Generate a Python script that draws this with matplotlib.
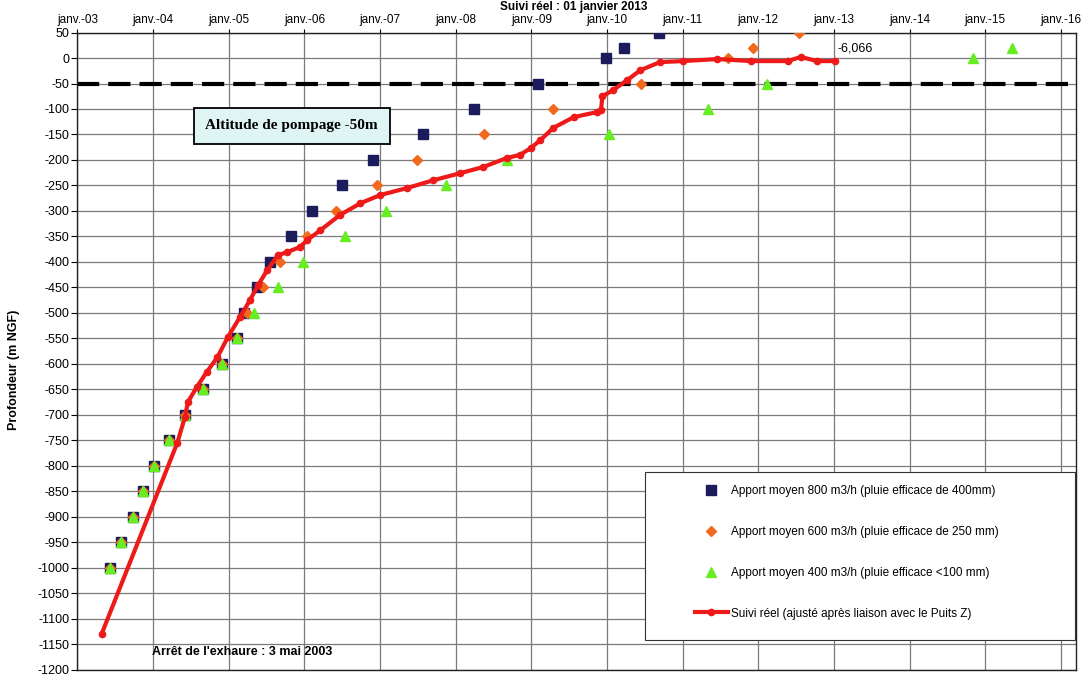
import numpy as np
import matplotlib
matplotlib.use("Agg")
import matplotlib.pyplot as plt
from matplotlib.patches import Rectangle

plt.rcParams['font.family'] = ['Liberation Sans', 'DejaVu Sans']
plt.rcParams['lines.scale_dashes'] = False
plt.rcParams['axes.unicode_minus'] = False

# dates en années décimales
years = list(range(2003, 2017))
year_labels = ["janv.-%02d" % (y % 100) for y in years]

# Apport moyen 800 m3/h
t_800 = [2003.43, 2003.58, 2003.73, 2003.87, 2004.01, 2004.21, 2004.42, 2004.66, 2004.91, 2005.11,
         2005.20, 2005.37, 2005.55, 2005.82, 2006.10, 2006.50, 2006.90, 2007.57, 2008.24, 2009.09,
         2009.98, 2010.23, 2010.69]
z_800 = [-1000, -950, -900, -850, -800, -750, -700, -650, -600, -550,
         -500, -450, -400, -350, -300, -250, -200, -150, -100, -50,
         0, 20, 50]

# Apport moyen 600 m3/h
t_600 = [2003.43, 2003.58, 2003.73, 2003.87, 2004.01, 2004.21, 2004.42, 2004.66, 2004.91, 2005.11,
         2005.24, 2005.45, 2005.68, 2006.04, 2006.42, 2006.96, 2007.49, 2008.38, 2009.29, 2010.45,
         2011.60, 2011.93, 2012.54]
z_600 = [-1000, -950, -900, -850, -800, -750, -700, -650, -600, -550,
         -500, -450, -400, -350, -300, -250, -200, -150, -100, -50,
         0, 20, 50]

# Apport moyen 400 m3/h
t_400 = [2003.43, 2003.58, 2003.73, 2003.87, 2004.01, 2004.21, 2004.42, 2004.66, 2004.91, 2005.11,
         2005.33, 2005.65, 2005.98, 2006.53, 2007.08, 2007.87, 2008.68, 2010.02, 2011.33, 2012.11,
         2014.84, 2015.35]
z_400 = [-1000, -950, -900, -850, -800, -750, -700, -650, -600, -550,
         -500, -450, -400, -350, -300, -250, -200, -150, -100, -50,
         0, 20]

# Suivi réel
t_reel = [2003.32, 2004.32, 2004.42, 2004.46, 2004.58, 2004.71, 2004.85, 2004.99, 2005.15, 2005.28,
          2005.39, 2005.51, 2005.65, 2005.77, 2005.94, 2006.04, 2006.21, 2006.47, 2006.74, 2007.00,
          2007.36, 2007.70, 2008.06, 2008.36, 2008.68, 2008.85, 2008.99, 2009.12, 2009.29, 2009.56,
          2009.87, 2009.92, 2009.94, 2010.08, 2010.27, 2010.44, 2010.70, 2011.01, 2011.46, 2011.90,
          2012.39, 2012.56, 2012.78, 2013.02]
z_reel = [-1130, -755, -705, -675, -645, -616, -587, -547, -508, -475,
          -445, -416, -387, -381, -371, -357, -338, -308, -285, -269,
          -255, -240, -226, -214, -196, -190, -177, -161, -137, -116,
          -106, -102, -75, -63, -43, -24, -8, -6, -2, -6,
          -6, 2, -6, -6.066]

fig = plt.figure(figsize=(10.82, 6.78), dpi=100)
ax = fig.add_axes([0.0716, 0.0125, 0.9229, 0.9395])

ax.set_xlim(2003, 2016.2)
ax.set_ylim(-1200, 50)
ax.set_yticks(np.arange(-1200, 51, 50))
ax.set_xticks(years)
ax.set_xticklabels(year_labels)
ax.xaxis.tick_top()
ax.tick_params(axis='x', labelsize=8.5, length=3, pad=2)
ax.tick_params(axis='y', labelsize=9, length=4, pad=2)
ax.grid(True, color='#7a7a7a', linewidth=0.9)
ax.set_axisbelow(True)
for s in ax.spines.values():
    s.set_color('#222222')
    s.set_linewidth(1.0)

ax.axhline(-50, color='black', linewidth=3, dashes=(16, 6.5), zorder=2)

ax.plot(t_800, z_800, linestyle='none', marker='s', markersize=6.5, color='#1c1c5c',
        label="Apport moyen 800 m3/h (pluie efficace de 400mm)", zorder=3)
ax.plot(t_600, z_600, linestyle='none', marker='D', markersize=5, color='#f06a1e',
        label="Apport moyen 600 m3/h (pluie efficace de 250 mm)", zorder=3)
ax.plot(t_400, z_400, linestyle='none', marker='^', markersize=7, color='#66ee22',
        label="Apport moyen 400 m3/h (pluie efficace <100 mm)", zorder=3)
ax.plot(t_reel, z_reel, color='#ee1a1a', linewidth=3, marker='o', markersize=4.5,
        label="Suivi réel (ajusté après liaison avec le Puits Z)", zorder=4)

ax.set_ylabel("Profondeur (m NGF)", fontsize=9, fontweight='bold')
ax.yaxis.set_label_coords(-0.058, 0.47)

ax.text(0.2146, 0.854, "Altitude de pompage -50m", transform=ax.transAxes,
        family=['Liberation Serif', 'DejaVu Serif'], fontweight='bold', fontsize=11,
        ha='center', va='center',
        bbox=dict(boxstyle='square,pad=0.75', facecolor='#dff5f3', edgecolor='black', linewidth=1.3))
ax.text(0.075, 0.027, "Arrêt de l'exhaure : 3 mai 2003", transform=ax.transAxes,
        fontweight='bold', fontsize=9, ha='left', va='center', zorder=5)
ax.text(2013.05, 18, "-6,066", fontsize=9, ha='left', va='center')

fig.text(0.53, 0.999, "Suivi réel : 01 janvier 2013", fontsize=8.5, fontweight='bold',
         ha='center', va='top')

ax.add_patch(Rectangle((0.568, 0.046), 0.431, 0.264, transform=ax.transAxes,
                       facecolor='white', edgecolor='#333333', linewidth=0.8, zorder=6))
leg = ax.legend(loc='upper left', bbox_to_anchor=(0.618, 0.29), frameon=False,
                fontsize=8.5, labelspacing=2.45, handlelength=2.8, handletextpad=0.3,
                borderpad=0, borderaxespad=0, numpoints=1)
leg.set_zorder(7)

fig.savefig("out.png", dpi=100)
